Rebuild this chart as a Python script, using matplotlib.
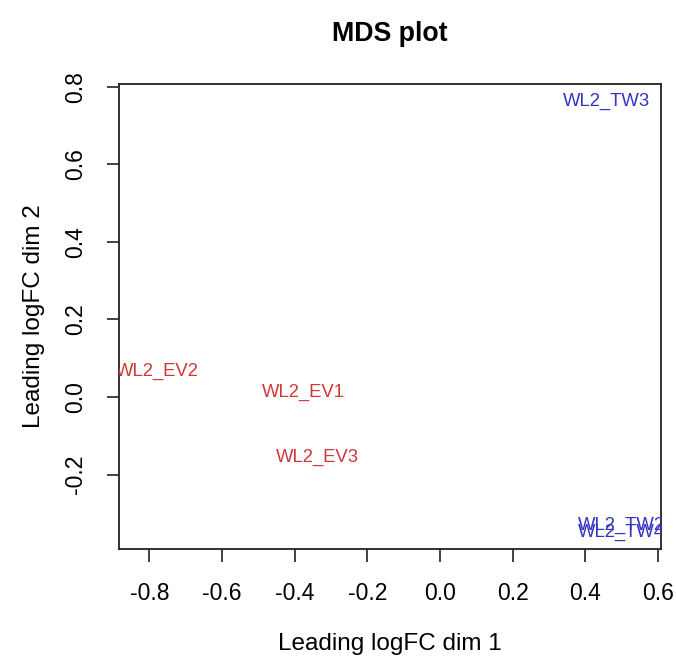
import matplotlib
matplotlib.use("Agg")
import matplotlib.pyplot as plt

plt.rcParams['font.family'] = ['Liberation Sans', 'DejaVu Sans']

samples = ["WL2_EV1", "WL2_EV2", "WL2_EV3", "WL2_TW2", "WL2_TW3", "WL2_TW4"]
dim1 = [-0.375, -0.777, -0.336, 0.50, 0.46, 0.50]
dim2 = [0.013, 0.067, -0.155, -0.33, 0.763, -0.35]
groups = ["EV", "EV", "EV", "TW", "TW", "TW"]
group_colors = {"EV": "#d03838", "TW": "#3434c4"}

xticks = [-0.8, -0.6, -0.4, -0.2, 0.0, 0.2, 0.4, 0.6]
yticks = [-0.2, 0.0, 0.2, 0.4, 0.6, 0.8]

fig = plt.figure(figsize=(6.76, 6.60), dpi=100)
ax = fig.add_axes([119 / 676, 1 - 549 / 660, (661 - 119) / 676, (549 - 84) / 660])

for name, x, y, g in zip(samples, dim1, dim2, groups):
    ax.text(x, y, name, color=group_colors[g], fontsize=13.3,
            ha="center", va="center", clip_on=True)

ax.set_xlim(-0.884, 0.609)
ax.set_ylim(-0.392, 0.807)
ax.set_xticks(xticks)
ax.set_xticklabels([f"{t:.1f}" for t in xticks], fontsize=16.5)
ax.set_yticks(yticks)
ax.set_yticklabels([f"{t:.1f}" for t in yticks], fontsize=16.5,
                   rotation=90, va="center")
ax.tick_params(axis="x", direction="out", length=9, width=1.2,
               color="#222222", pad=15)
ax.tick_params(axis="y", direction="out", length=9, width=1.2,
               color="#222222", pad=14)
for sp in ax.spines.values():
    sp.set_linewidth(1.3)
    sp.set_color("#222222")

ax.set_xlabel("Leading logFC dim 1", fontsize=17.5, labelpad=20)
ax.set_ylabel("Leading logFC dim 2", fontsize=17.5, labelpad=14)
ax.set_title("MDS plot", fontsize=19.3, fontweight="bold", pad=31)

fig.savefig("out.png", dpi=100)
